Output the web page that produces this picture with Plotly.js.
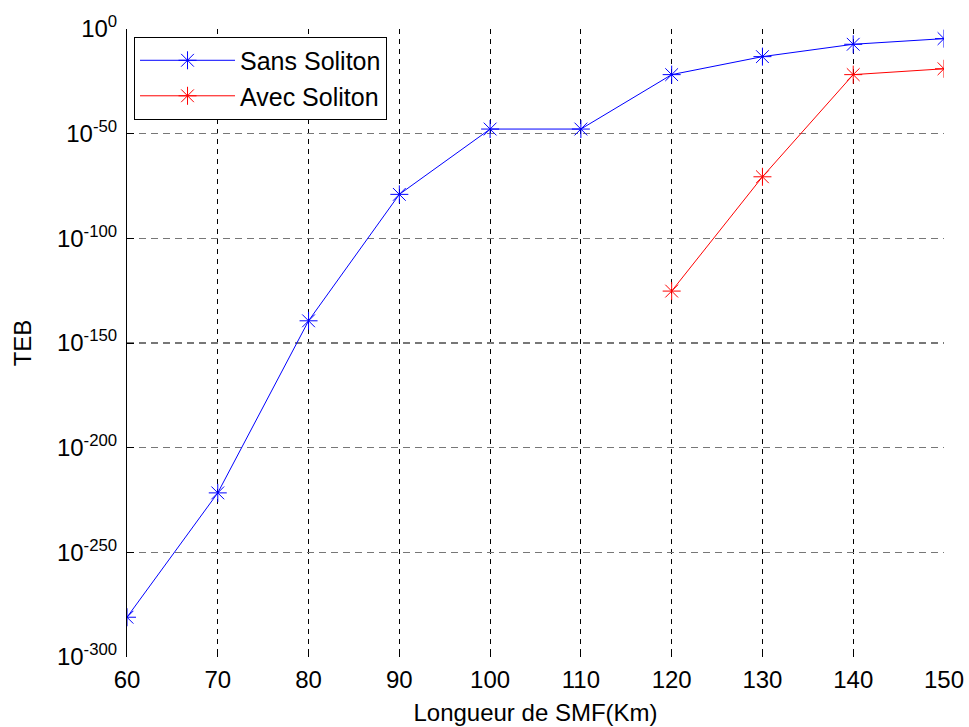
<!DOCTYPE html>
<html>
<head>
<meta charset="utf-8">
<script src="https://cdn.plot.ly/plotly-3.0.1.min.js"></script>
<style>html,body{margin:0;padding:0;background:#fff;}#chart{width:969px;height:727px;}</style>
</head>
<body>
<div id="chart"></div>
<script>
// Data
const lengthsSans = [60, 70, 80, 90, 100, 110, 120, 130, 140, 150];
const tebSans = [1e-281, 2.5e-222, 4e-140, 1e-79, 1.6e-48, 1.6e-48, 1.6e-22, 6.3e-14, 5e-8, 2.5e-5];
const lengthsAvec = [120, 130, 140, 150];
const tebAvec = [6.3e-126, 2.5e-71, 1.6e-22, 1e-19];
const xTicks = [60, 70, 80, 90, 100, 110, 120, 130, 140, 150];
const yTickVals = [1e-300, 1e-250, 1e-200, 1e-150, 1e-100, 1e-50, 1];
const yTickText = ['10<sup>-300</sup>', '10<sup>-250</sup>', '10<sup>-200</sup>', '10<sup>-150</sup>', '10<sup>-100</sup>', '10<sup>-50</sup>', '10<sup>0</sup>'];

const font = {family: 'Arial, "Liberation Sans", sans-serif', size: 24, color: '#000'};

const traces = [
  {x: lengthsSans, y: tebSans, name: 'Sans Soliton', mode: 'lines+markers', type: 'scatter',
   line: {color: '#0000ff', width: 1},
   marker: {symbol: 'asterisk-open', size: 15, color: '#0000ff', line: {color: '#0000ff', width: 1}}},
  {x: lengthsAvec, y: tebAvec, name: 'Avec Soliton', mode: 'lines+markers', type: 'scatter',
   line: {color: '#ff0000', width: 1},
   marker: {symbol: 'asterisk-open', size: 15, color: '#ff0000', line: {color: '#ff0000', width: 1}}}
];

const layout = {
  width: 969, height: 727,
  margin: {l: 127, r: 25, t: 29, b: 70},
  paper_bgcolor: '#fff', plot_bgcolor: '#fff',
  font: font,
  showlegend: true,
  legend: {x: 0.0086, y: 0.988, xanchor: 'left', yanchor: 'top',
           bgcolor: '#fff', bordercolor: '#000', borderwidth: 1,
           font: {family: font.family, size: 25, color: '#000'}, itemwidth: 95},
  xaxis: {
    range: [60, 150], tickvals: xTicks, ticktext: xTicks.map(String),
    showgrid: true, gridcolor: '#000', gridwidth: 1, griddash: '5px,5px',
    showline: false, zeroline: false,
    ticks: 'inside', ticklen: 7, tickcolor: '#000', tickwidth: 1,
    tickfont: font, ticklabelstandoff: 6,
    title: {text: 'Longueur de SMF(Km)', font: font, standoff: 12}
  },
  yaxis: {
    type: 'log', range: [-300, 0], tickvals: yTickVals, ticktext: yTickText,
    showgrid: true, gridcolor: '#777', gridwidth: 1.5, griddash: '7px,5px',
    showline: true, linecolor: '#000', linewidth: 1, zeroline: false,
    ticks: 'inside', ticklen: 7, tickcolor: '#000', tickwidth: 1,
    tickfont: font, ticklabelstandoff: 4,
    title: {text: 'TEB', font: font, standoff: 18}
  }
};

Plotly.newPlot('chart', traces, layout, {displayModeBar: false, staticPlot: true});
</script>
</body>
</html>
